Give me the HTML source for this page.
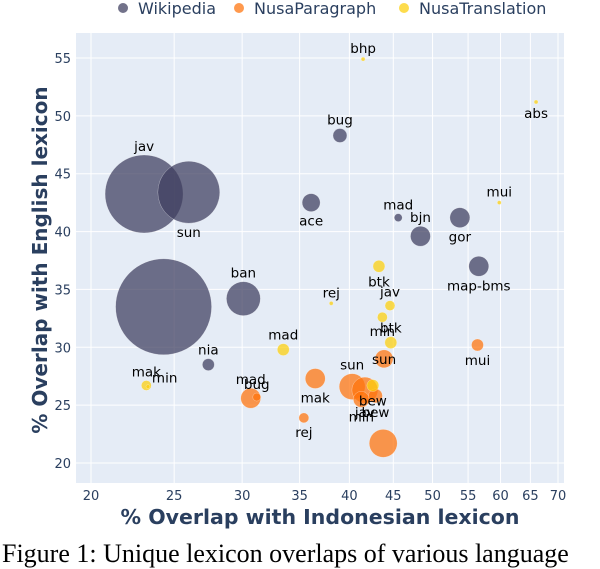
<!DOCTYPE html>
<html><head><meta charset="utf-8"><style>
body{margin:0;background:#fff;width:600px;height:550px;overflow:hidden;position:relative}
svg{position:absolute;left:0;top:0}
.cap{position:absolute;left:2px;top:539px;font-family:"Liberation Serif",serif;font-size:26px;line-height:30px;color:#000;white-space:nowrap}
</style></head><body>
<svg id="chart" width="600" height="550" font-family="DejaVu Sans, Liberation Sans, sans-serif"></svg>
<div class="cap">Figure 1: Unique lexicon overlaps of various language</div>
<script>
const xTicks=[20,25,30,35,40,45,50,55,60,65,70];
const yTicks=[20,25,30,35,40,45,50,55];
const seriesNames=["Wikipedia","NusaParagraph","NusaTranslation"];
const wikiLabels=["jav","sun","","bug","ace","mad","bjn","gor","map-bms","ban","nia"];
const wikiX=[23.06,26.0,24.3,39.0,36.1,45.6,48.4,53.8,56.6,30.1,27.4];
const wikiY=[43.25,43.4,33.5,48.3,42.5,41.2,39.6,41.2,37.0,34.2,28.5];
const wikiSize=[39,31,48,7,9,4,10,10,10,17,6];
const wikiPos=["t","b","t","t","b","t","t","b","b","t","t"];
const paraLabels=["mad","bug","mak","rej","sun","jav","min","sun","","mui","bew"];
const paraX=[30.7,31.2,36.5,35.4,40.3,41.7,41.3,43.9,43.8,56.4,42.9];
const paraY=[25.6,25.7,27.3,23.9,26.6,26.3,25.5,29.0,21.7,30.2,25.8];
const paraSize=[10,4,10,5,13,13,8,9,14,6,7];
const paraPos=["t","t","b","b","t","b","b","m","t","b","b"];
const transLabels=["bhp","abs","mui","btk","rej","jav","min","btk","mad","mak","min","bew"];
const transX=[41.5,66.0,59.8,43.3,38.1,44.6,43.7,44.7,33.5,23.2,23.3,42.6];
const transY=[54.9,51.2,42.5,37.0,33.8,33.6,32.6,30.4,29.8,26.7,26.6,26.7];
const transSize=[2,2,2,6,2,5,5,6,6,5,2,6];
const transPos=["t","b","t","b","t","t","b","t","t","t","r","b"];

const L=76,R=564,T=33,B=483;
const lx0=Math.log(20),lx1=Math.log(70),px0=91,px1=558;
function X(v){return px0+(Math.log(v)-lx0)/(lx1-lx0)*(px1-px0);}
function Y(v){return 58+(55-v)*(463-58)/35;}
const NS="http://www.w3.org/2000/svg";
const svg=document.getElementById('chart');
function mk(t,a,p){const e=document.createElementNS(NS,t);for(const k in a)e.setAttribute(k,a[k]);(p||svg).appendChild(e);return e;}
const bg=mk('rect',{x:L,y:T,width:R-L,height:B-T,fill:'#e5ecf6'});


xTicks.forEach(t=>{
  const g=mk('line',{x1:X(t),x2:X(t),y1:T,y2:B,stroke:'#fff','stroke-width':1});
  
  
  const tx=mk('text',{x:X(t),y:B+17,'text-anchor':'middle','font-size':13,fill:'#2a3f5f'});tx.textContent=t;
  
  
});
yTicks.forEach(t=>{
  const g=mk('line',{x1:L,x2:R,y1:Y(t),y2:Y(t),stroke:'#fff','stroke-width':1});
  
  
  const tx=mk('text',{x:L-5,y:Y(t)+5,'text-anchor':'end','font-size':13,fill:'#2a3f5f'});tx.textContent=t;
  
  
});
const colors=['#3e3e5f','#ff730b','#fccf0b'];
const sets=[[wikiX,wikiY,wikiSize,wikiLabels,wikiPos],[paraX,paraY,paraSize,paraLabels,paraPos],[transX,transY,transSize,transLabels,transPos]];
const labelLayer=[];
sets.forEach((s,si)=>{
  s[0].forEach((xv,i)=>{
    const cx=X(xv),cy=Y(s[1][i]),r=s[2][i];
    const c=mk('circle',{cx:cx,cy:cy,r:r,fill:colors[si],'fill-opacity':0.73,stroke:'#fff','stroke-width':0.5,'stroke-opacity':0.5});
    
    
    if(s[3][i]){
      const p=s[4][i];let ly=cy-r-4,lxx=cx,anc='middle';
      if(p==='b')ly=cy+r+14;else if(p==='m')ly=cy+5;else if(p==='r'){lxx=cx+4;ly=cy-4;anc='start';}
      labelLayer.push([lxx,ly,anc,s[3][i]]);
    }
  });
});
labelLayer.forEach(l=>{
  const t=mk('text',{x:l[0],y:l[1],'text-anchor':l[2],'font-size':13.5,fill:'#000'});t.textContent=l[3];
  
  
});
const xt=mk('text',{x:320,y:524,'text-anchor':'middle','font-size':20.5,'font-weight':'bold',fill:'#2a3f5f'});xt.textContent='% Overlap with Indonesian lexicon';


const yt=mk('text',{x:0,y:0,transform:'translate(47,260) rotate(-90)','text-anchor':'middle','font-size':20,'font-weight':'bold',fill:'#2a3f5f'});yt.textContent='% Overlap with English lexicon';


const legX=[123,239,404];
seriesNames.forEach((n,i)=>{
  const g=mk('g',{});
  
  
  mk('circle',{cx:legX[i],cy:8,r:5,fill:colors[i],'fill-opacity':0.73},g);
  const t=mk('text',{x:legX[i]+15,y:14,'font-size':16,fill:'#2a3f5f'},g);t.textContent=n;
});
</script>
</body></html>
